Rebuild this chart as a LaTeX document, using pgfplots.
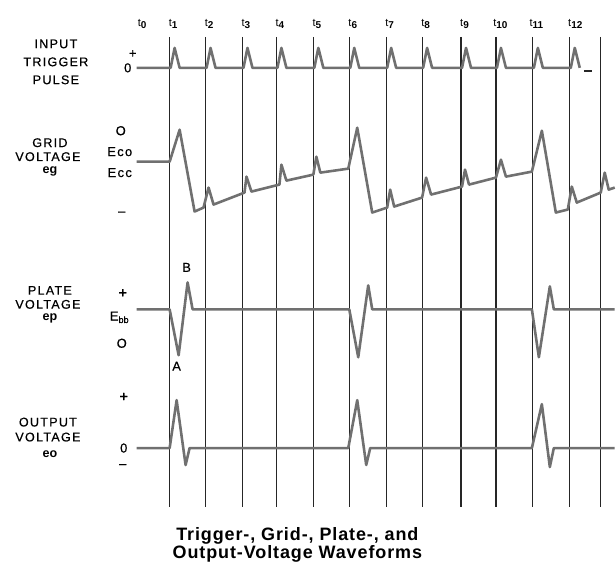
\documentclass[border=0pt]{standalone}
\usepackage{pgfplots}
\pgfplotsset{compat=1.18}
\usepackage{fontspec}
\setmainfont{Liberation Sans}
\newfontfamily\labfont[LetterSpace=10,FakeBold=0.6]{Liberation Sans}
\newfontfamily\lvlfont[FakeBold=0.6]{Liberation Sans}
\newfontfamily\capfont[LetterSpace=5]{Liberation Sans}
\definecolor{wave}{HTML}{707070}
\definecolor{ink}{HTML}{262626}
\newcommand{\tl}[1]{{\fontsize{5.5}{6}\selectfont t}\textsubscript{\bfseries #1}}
\begin{document}
\begin{tikzpicture}
\begin{axis}[
  width=308pt, height=286pt, scale only axis,
  xmin=0, xmax=616, ymin=0, ymax=572, y dir=reverse,
  axis lines=none, clip=false,
  every node/.style={text=ink},
]
\path (axis cs:0,0) rectangle (axis cs:616,572);
% vertical time lines
\pgfplotsinvokeforeach{170,206,243,277,314,350,387,423,462,497,534,571,602}{
  \addplot[ink, line width=0.6pt, forget plot] coordinates {(#1,37) (#1,508)};
}
% input trigger pulse
\addplot[wave, line width=1.3pt, line join=round] coordinates {
(137,68)
(171,68)(175,48)(180,68)
(207,68)(211,48)(216,68)
(244,68)(248,48)(253,68)
(278,68)(282,48)(287,68)
(315,68)(319,48)(324,68)
(351,68)(355,48)(360,68)
(388,68)(392,48)(397,68)
(424,68)(428,48)(433,68)
(463,68)(467,48)(472,68)
(498,68)(502,48)(507,68)
(535,68)(539,48)(544,68)
(572,68)(576,48)(581,68)
};
\addplot[ink, line width=1.0pt] coordinates {(585,71) (593,71)};
% grid voltage
\addplot[wave, line width=1.3pt, line join=round] coordinates {
(137,162) (170,162) (180,130) (195,212) (204,208) (209,188) (214,205)
(245,193) (247,177) (252,192) (280,185) (282,165) (287,181)
(314,175) (317,157) (321,173) (349,169) (358,128) (373,213)
(388,208) (391,190) (395,207) (423,198) (427,178) (432,195)
(463,187) (466,170) (470,185) (497,178) (502,160) (507,177)
(533,172) (543,131) (557,213) (569,210) (573,187) (578,203)
(602,193) (606,173) (610,190) (616,188)
};
% plate voltage
\addplot[wave, line width=1.3pt, line join=round] coordinates {
(137,310) (170,310) (179,356) (188,283) (193,310) (350,310) (359,358)
(369,286) (373,310) (533,310) (540,358) (551,287) (555,310) (616,310)
};
% output voltage
\addplot[wave, line width=1.3pt, line join=round] coordinates {
(137,449) (170,449) (177,401) (186,466) (190,449) (349,449) (358,401)
(367,466) (371,449) (533,449) (543,405) (551,468) (555,449) (616,449)
};
% time labels
\node[font=\fontsize{7}{7}\selectfont] at (axis cs:143,24) {\tl{0}};
\node[font=\fontsize{7}{7}\selectfont] at (axis cs:174,24) {\tl{1}};
\node[font=\fontsize{7}{7}\selectfont] at (axis cs:210,24) {\tl{2}};
\node[font=\fontsize{7}{7}\selectfont] at (axis cs:247,24) {\tl{3}};
\node[font=\fontsize{7}{7}\selectfont] at (axis cs:281,24) {\tl{4}};
\node[font=\fontsize{7}{7}\selectfont] at (axis cs:318,24) {\tl{5}};
\node[font=\fontsize{7}{7}\selectfont] at (axis cs:354,24) {\tl{6}};
\node[font=\fontsize{7}{7}\selectfont] at (axis cs:391,24) {\tl{7}};
\node[font=\fontsize{7}{7}\selectfont] at (axis cs:427,24) {\tl{8}};
\node[font=\fontsize{7}{7}\selectfont] at (axis cs:466,24) {\tl{9}};
\node[font=\fontsize{7}{7}\selectfont] at (axis cs:502,24) {\tl{10}};
\node[font=\fontsize{7}{7}\selectfont] at (axis cs:538,24) {\tl{11}};
\node[font=\fontsize{7}{7}\selectfont] at (axis cs:577,24) {\tl{12}};
% block labels
\node[font=\labfont\fontsize{6.3}{7}\selectfont] at (axis cs:56,44) {INPUT};
\node[font=\labfont\fontsize{6.3}{7}\selectfont] at (axis cs:56,62) {TRIGGER};
\node[font=\labfont\fontsize{6.3}{7}\selectfont] at (axis cs:56,80) {PULSE};
\node[font=\labfont\fontsize{6.3}{7}\selectfont] at (axis cs:50,143) {GRID};
\node[font=\labfont\fontsize{6.3}{7}\selectfont] at (axis cs:48,157) {VOLTAGE};
\node[font=\bfseries\fontsize{6.3}{7}\selectfont] at (axis cs:50,172) {eg};
\node[font=\labfont\fontsize{6.3}{7}\selectfont] at (axis cs:50,291) {PLATE};
\node[font=\labfont\fontsize{6.3}{7}\selectfont] at (axis cs:48,305) {VOLTAGE};
\node[font=\bfseries\fontsize{6.3}{7}\selectfont] at (axis cs:50,319) {ep};
\node[font=\labfont\fontsize{6.3}{7}\selectfont] at (axis cs:48,423) {OUTPUT};
\node[font=\labfont\fontsize{6.3}{7}\selectfont] at (axis cs:48,438) {VOLTAGE};
\node[font=\bfseries\fontsize{6.3}{7}\selectfont] at (axis cs:50,455) {eo};
% level labels
\node[font=\lvlfont\fontsize{6.5}{7}\selectfont] at (axis cs:133,54) {+};
\node[font=\lvlfont\fontsize{6.5}{7}\selectfont] at (axis cs:128,68) {0};
\node[font=\lvlfont\fontsize{6.5}{7}\selectfont] at (axis cs:121,131) {O};
\node[font=\labfont\fontsize{6.5}{7}\selectfont] at (axis cs:120,152) {Eco};
\node[font=\labfont\fontsize{6.5}{7}\selectfont] at (axis cs:120,173) {Ecc};
\node[font=\lvlfont\fontsize{6.5}{7}\selectfont] at (axis cs:122,214) {–};
\node[font=\lvlfont\fontsize{6.5}{7}\selectfont] at (axis cs:187,268) {B};
\node[font=\lvlfont\fontsize{7.5}{7}\selectfont] at (axis cs:123,294) {+};
\node[font=\lvlfont\fontsize{6.5}{7}\selectfont] at (axis cs:120,318) {E\textsubscript{bb}};
\node[font=\lvlfont\fontsize{6.5}{7}\selectfont] at (axis cs:122,344) {O};
\node[font=\lvlfont\fontsize{6.5}{7}\selectfont] at (axis cs:177,367) {A};
\node[font=\lvlfont\fontsize{7.5}{7}\selectfont] at (axis cs:124,398) {+};
\node[font=\lvlfont\fontsize{6.5}{7}\selectfont] at (axis cs:124,449) {0};
\node[font=\lvlfont\fontsize{6.5}{7}\selectfont] at (axis cs:123,467) {–};
% caption
\node[font=\capfont\bfseries\fontsize{9}{9.2}\selectfont, align=center] at (axis cs:298,546)
  {Trigger-, Grid-, Plate-, and\\Output-Voltage Waveforms};
\end{axis}
\end{tikzpicture}
\end{document}
